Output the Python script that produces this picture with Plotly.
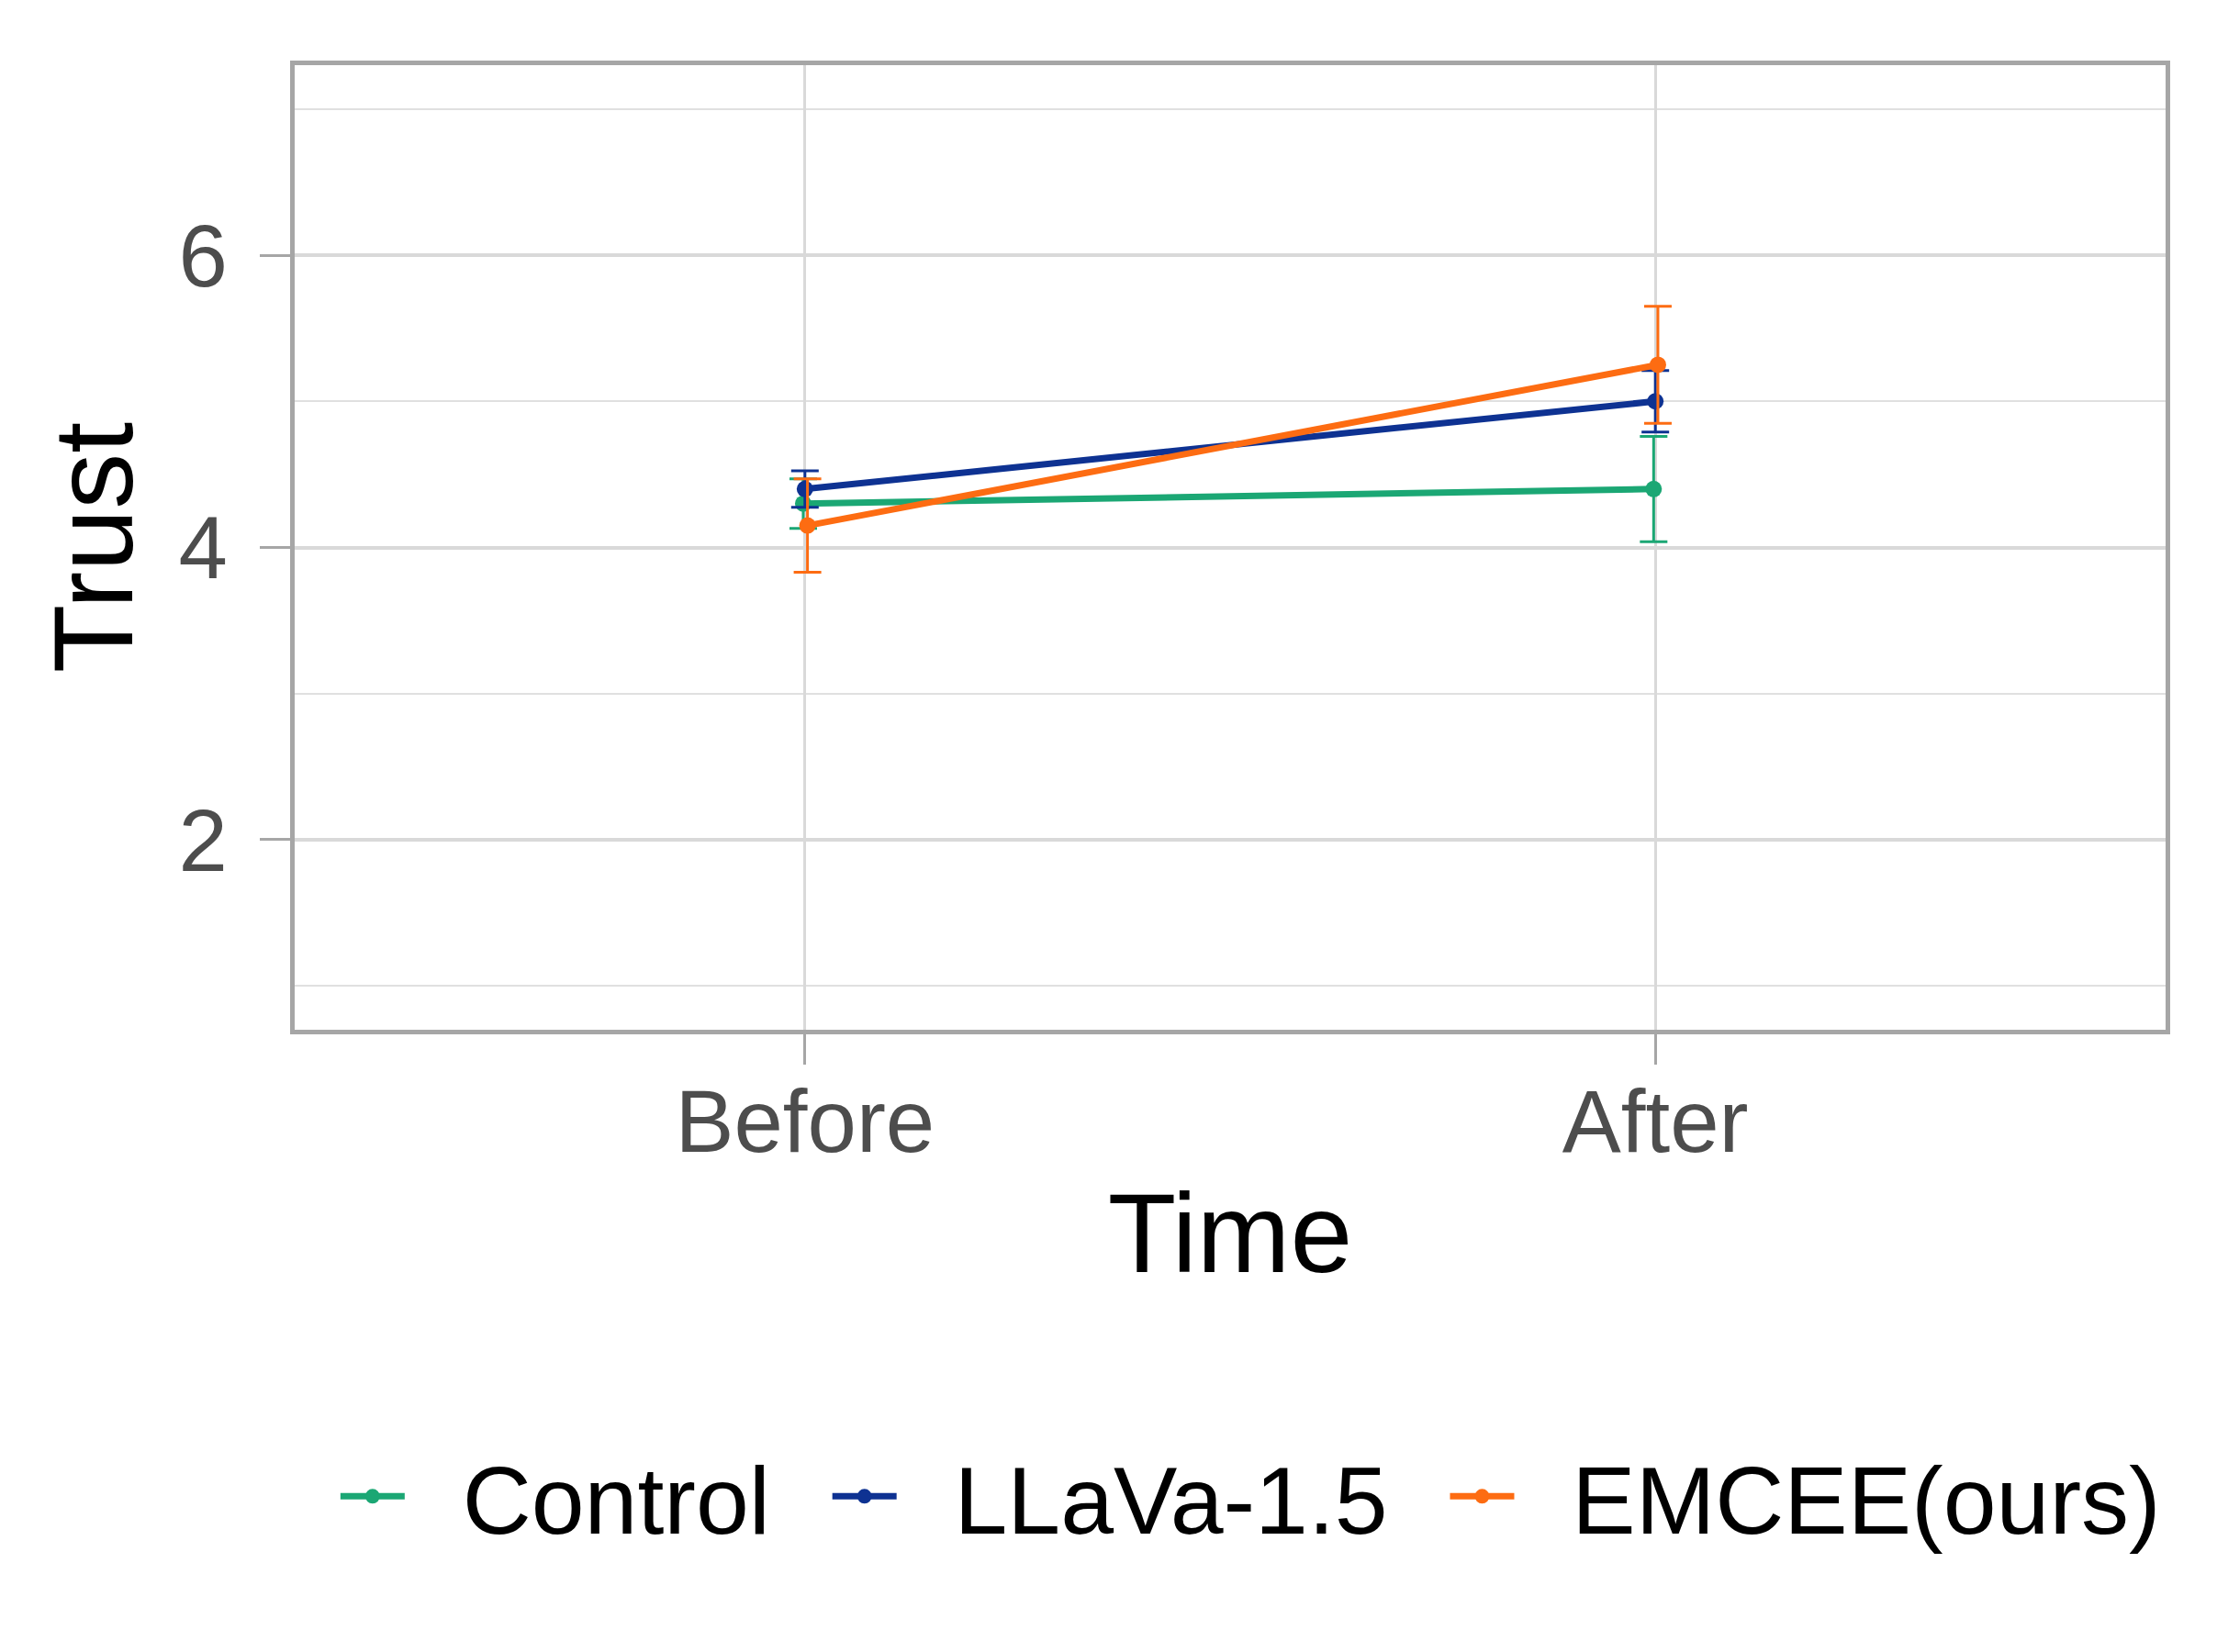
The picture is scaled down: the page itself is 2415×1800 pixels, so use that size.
import plotly.graph_objects as go

# data
times = ["Before", "After"]
x_pos = [1, 2]
groups = ["Control", "LLaVa-1.5", "EMCEE(ours)"]
control_mean = [4.30, 4.40]
control_err = [0.17, 0.36]
llava_mean = [4.40, 5.00]
llava_err = [0.125, 0.21]
emcee_mean = [4.15, 5.25]
emcee_err = [0.32, 0.40]

COLORS = {
    "Control": "#1ba774",
    "LLaVa-1.5": "#0e3292",
    "EMCEE(ours)": "#fd6c12",
}
DODGE = {"Control": -0.002, "LLaVa-1.5": 0.0, "EMCEE(ours)": 0.003}

FONT = "Liberation Sans, Arial, sans-serif"
W, H = 2415, 1800
ML, MR, MT, MB = 313, 64, 63, 686
PAD = "\u00a0\u00a0"  # spacing around legend labels

fig = go.Figure()

series = [
    ("Control", control_mean, control_err),
    ("LLaVa-1.5", llava_mean, llava_err),
    ("EMCEE(ours)", emcee_mean, emcee_err),
]
for i, (name, mean, err) in enumerate(series):
    label = PAD + name + (PAD if i < len(series) - 1 else "")
    fig.add_trace(go.Scatter(
        x=[x + DODGE[name] for x in x_pos],
        y=mean,
        mode="lines+markers",
        name=label,
        line=dict(color=COLORS[name], width=7),
        marker=dict(color=COLORS[name], size=18),
        error_y=dict(type="data", array=err, visible=True,
                     color=COLORS[name], thickness=3, width=15),
    ))

fig.update_layout(
    width=W, height=H,
    margin=dict(l=ML, r=MR, t=MT, b=MB, autoexpand=False),
    plot_bgcolor="#FFFFFF",
    paper_bgcolor="#FFFFFF",
    font=dict(family=FONT, color="#000000"),
    showlegend=True,
    legend=dict(
        orientation="h",
        x=0.022, xanchor="left",
        y=-0.484, yanchor="middle",
        font=dict(size=104, color="#000000"),
        itemwidth=70,
        tracegroupgap=0,
    ),
)

fig.update_xaxes(
    range=[0.4, 2.6],
    tickmode="array",
    tickvals=x_pos,
    ticktext=times,
    showgrid=True, gridcolor="#d9d9d9", gridwidth=3,
    zeroline=False,
    showline=True, linecolor="#a6a6a6", linewidth=5, mirror=True,
    ticks="outside", ticklen=33, tickwidth=3, tickcolor="#a6a6a6",
    tickfont=dict(size=96, color="#4d4d4d", family=FONT),
    ticklabelstandoff=-20,
    title=dict(text="Time", font=dict(size=122, color="#000000", family=FONT), standoff=28),
)

fig.update_yaxes(
    range=[0.7, 7.3],
    tickmode="linear", tick0=0, dtick=2,
    showgrid=True, gridcolor="#d9d9d9", gridwidth=4,
    minor=dict(showgrid=True, tick0=0, dtick=1, gridcolor="#e0e0e0", gridwidth=2),
    zeroline=False,
    showline=True, linecolor="#a6a6a6", linewidth=5, mirror=True,
    ticks="outside", ticklen=33, tickwidth=3, tickcolor="#a6a6a6",
    tickfont=dict(size=96, color="#4d4d4d", family=FONT),
    ticklabelstandoff=16,
    title=dict(text="Trust", font=dict(size=122, color="#000000", family=FONT), standoff=10),
)

fig.write_html("out.html")
